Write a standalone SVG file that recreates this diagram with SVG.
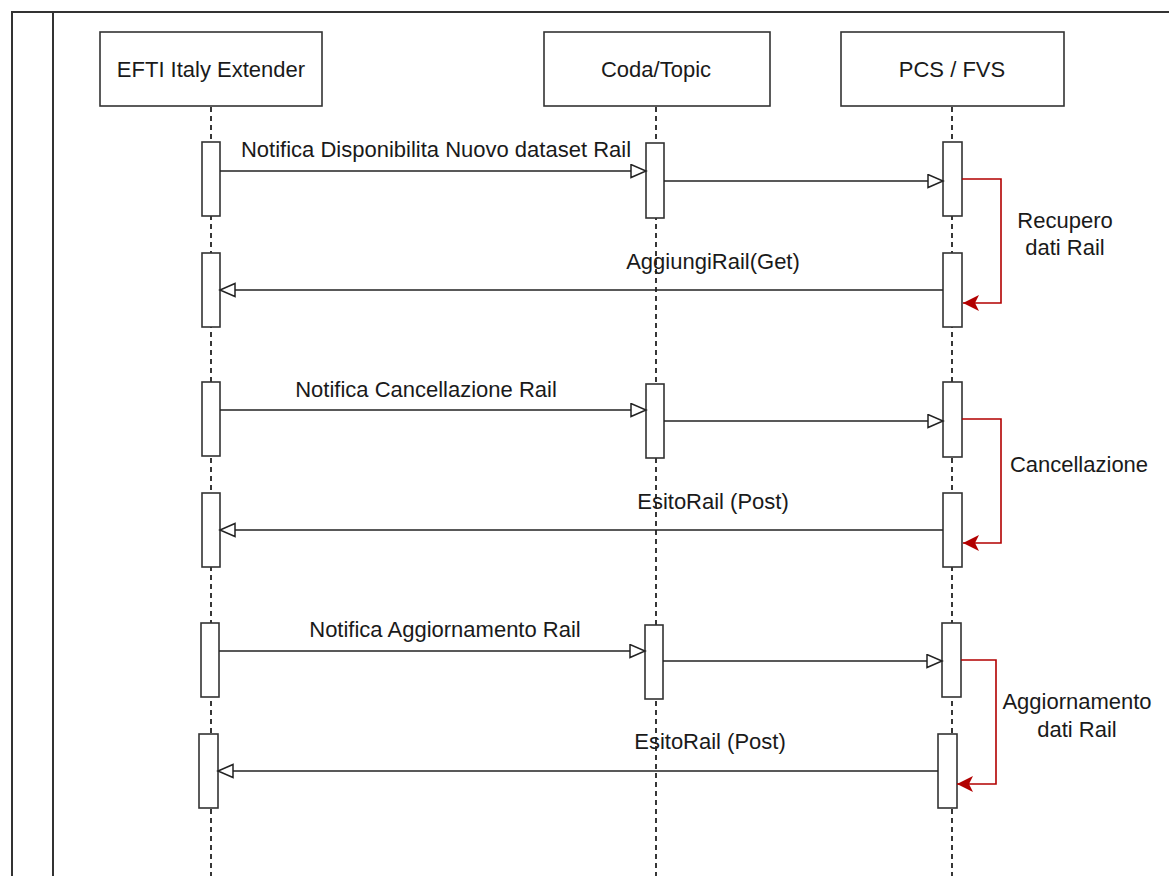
<svg xmlns="http://www.w3.org/2000/svg" width="1169" height="876" viewBox="0 0 1169 876">
<style>
.frame{fill:none;stroke:#333;stroke-width:2}
.actor{fill:#fff;stroke:#333;stroke-width:1.6}
.act{fill:#fff;stroke:#333;stroke-width:1.6}
.life{stroke:#222;stroke-width:1.8;stroke-dasharray:5 4;fill:none}
.msg{stroke:#222;stroke-width:1.5;fill:none;marker-end:url(#open)}
.self{stroke:#B20000;stroke-width:1.6;fill:none;marker-end:url(#red)}
text{font-family:"Liberation Sans",Arial,sans-serif;font-size:22px;fill:#1a1a1a}
.c{text-anchor:middle}
</style>
<defs>
<marker id="open" markerUnits="userSpaceOnUse" markerWidth="18" markerHeight="16" viewBox="-1 -1 18 16" refX="15" refY="6.5" orient="auto">
<path d="M0,0 L15,6.5 L0,13 Z" fill="#fff" stroke="#222" stroke-width="1.5"/>
</marker>
<marker id="red" markerUnits="userSpaceOnUse" markerWidth="18" markerHeight="18" viewBox="0 0 18 18" refX="16" refY="8" orient="auto">
<path d="M0,0 L16,8 L0,16 L4,8 Z" fill="#B20000"/>
</marker>
</defs>
<rect width="1169" height="876" fill="#fff"/>
<g id="frame">
<path class="frame" d="M12,876 V12 H1175"/>
<path class="frame" d="M53,12 V876"/>
</g>
<g id="lifelines">
<line class="life" x1="211" y1="107" x2="211" y2="876"/>
<line class="life" x1="656" y1="107" x2="656" y2="876"/>
<line class="life" x1="952" y1="107" x2="952" y2="876"/>
</g>
<g id="actor-efti">
<rect class="actor" x="100" y="32" width="222" height="74"/>
<text class="c" x="211" y="76.5">EFTI Italy Extender</text>
</g>
<g id="actor-coda">
<rect class="actor" x="544" y="32" width="226" height="74"/>
<text class="c" x="656" y="76.5">Coda/Topic</text>
</g>
<g id="actor-pcs">
<rect class="actor" x="841" y="32" width="223" height="74"/>
<text class="c" x="952" y="76.5">PCS / FVS</text>
</g>
<g id="activations">
<rect class="act" x="202" y="142" width="18" height="74"/>
<rect class="act" x="202" y="253" width="18" height="74"/>
<rect class="act" x="202" y="382" width="18" height="74"/>
<rect class="act" x="202" y="493" width="18" height="74"/>
<rect class="act" x="201" y="623" width="18" height="74"/>
<rect class="act" x="199" y="734" width="19" height="74"/>
<rect class="act" x="646" y="143" width="18" height="75"/>
<rect class="act" x="646" y="384" width="18" height="74"/>
<rect class="act" x="645" y="625" width="18" height="74"/>
<rect class="act" x="943" y="142" width="19" height="74"/>
<rect class="act" x="943" y="253" width="19" height="74"/>
<rect class="act" x="943" y="382" width="19" height="75"/>
<rect class="act" x="943" y="493" width="19" height="74"/>
<rect class="act" x="942" y="623" width="19" height="74"/>
<rect class="act" x="938" y="734" width="19" height="74"/>
</g>
<g id="connectors">
<line class="msg" x1="220" y1="171" x2="646" y2="171"/>
<line class="msg" x1="664" y1="181" x2="943" y2="181"/>
<path class="self" d="M962,179 H1001 V303 H963"/>
<line class="msg" x1="943" y1="290" x2="220" y2="290"/>
<line class="msg" x1="220" y1="410" x2="646" y2="410"/>
<line class="msg" x1="664" y1="421" x2="943" y2="421"/>
<path class="self" d="M962,419 H1001 V543 H963"/>
<line class="msg" x1="943" y1="530" x2="220" y2="530"/>
<line class="msg" x1="219" y1="651" x2="645" y2="651"/>
<line class="msg" x1="663" y1="661" x2="942" y2="661"/>
<path class="self" d="M961,660 H996 V784 H957"/>
<line class="msg" x1="938" y1="771" x2="218" y2="771"/>
</g>
<g id="labels">
<text class="c" x="436" y="157">Notifica Disponibilita Nuovo dataset Rail</text>
<text class="c" x="713" y="269">AggiungiRail(Get)</text>
<text class="c" x="1065" y="228">Recupero</text>
<text class="c" x="1065" y="255">dati Rail</text>
<text class="c" x="426" y="397">Notifica Cancellazione Rail</text>
<text class="c" x="713" y="509">EsitoRail (Post)</text>
<text class="c" x="1079" y="472">Cancellazione</text>
<text class="c" x="445" y="637">Notifica Aggiornamento Rail</text>
<text class="c" x="710" y="749">EsitoRail (Post)</text>
<text class="c" x="1077" y="709">Aggiornamento</text>
<text class="c" x="1077" y="737">dati Rail</text>
</g>
</svg>
